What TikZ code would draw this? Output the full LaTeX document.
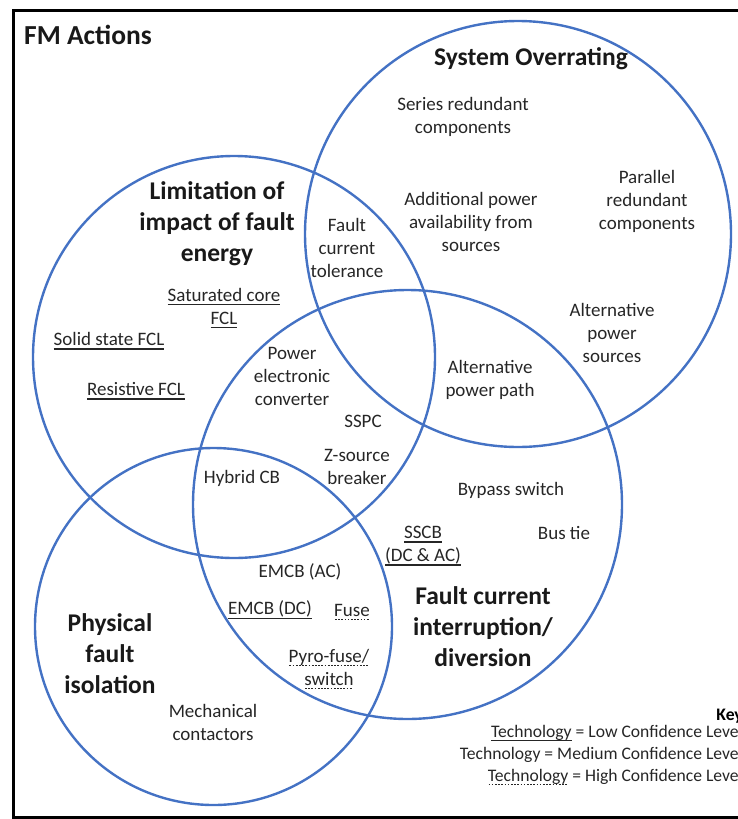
\documentclass[tikz,border=0pt]{standalone}
\usepackage{fontspec}
\setmainfont{Carlito}
\definecolor{ringblue}{HTML}{4472C4}
\definecolor{txt}{HTML}{262626}
% underline marks for the confidence levels
\newlength\ulw
\newcommand{\lowconf}[1]{\settowidth{\ulw}{#1}\rlap{\vrule width\ulw height -2.6pt depth 4.0pt}#1}
\newcommand{\highconf}[1]{\settowidth{\ulw}{#1}\rlap{\hbox to \ulw{\leaders\hbox to 3.2pt{\hss\vrule width 1.7pt height -2.8pt depth 4.0pt\hss}\hfill}}#1}
\begin{document}
\begin{tikzpicture}[x=1pt,y=-1pt,
  ring/.style={draw=ringblue, line width=2.4pt},
  item/.style={font=\fontsize{19}{23}\selectfont, align=center, text=txt, inner sep=0pt},
  head/.style={font=\fontsize{25.5}{31}\selectfont\bfseries, align=center, text=black!90, inner sep=0pt},
  keyline/.style={font=\fontsize{17.6}{21}\selectfont, text=txt, inner sep=0pt, anchor=east}]
\useasboundingbox (0,0) rectangle (737,819);

% outer frame
\draw[line width=3pt] (13,10) rectangle (770,817);

% the four action sets
\draw[ring] (518,234) circle[radius=213pt];
\draw[ring] (234,357) circle[radius=201pt];
\draw[ring] (407.5,504.5) circle[radius=214.5pt];
\draw[ring] (213.5,626.5) circle[radius=178.5pt];

% title
\node[head, font=\fontsize{27.5}{31}\selectfont\bfseries, anchor=west] (title) at (24,35) {FM Actions};

% set headings
\node[head] (hover) at (531,59) {System Overrating};
\node[head] (hlim) at (217,224) {Limitation of\\impact of fault\\energy};
\node[head] (hint) at (483,627) {Fault current\\interruption/\\diversion};
\node[head] (hiso) at (110,654) {Physical\\fault\\isolation};

% technologies
\node[item] (series) at (463,117) {Series redundant\\components};
\node[item] (parallel) at (647,201) {Parallel\\redundant\\components};
\node[item] (addpow) at (471,222) {Additional power\\availability from\\sources};
\node[item] (fct) at (347,248) {Fault\\current\\tolerance};
\node[item] (satcore) at (224,308) {\lowconf{Saturated core}\\\lowconf{FCL}};
\node[item] (solid) at (109,341) {\lowconf{Solid state FCL}};
\node[item] (resist) at (136,391) {\lowconf{Resistive FCL}};
\node[item] (pec) at (292,376) {Power\\electronic\\converter};
\node[item] (altsrc) at (612,333) {Alternative\\power\\sources};
\node[item] (altpath) at (490,380) {Alternative\\power path};
\node[item] (sspc) at (363,421) {SSPC};
\node[item] (zsrc) at (357,467) {Z-source\\breaker};
\node[item] (hybrid) at (242,478) {Hybrid CB};
\node[item] (bypass) at (511,490) {Bypass switch};
\node[item] (bustie) at (564,533) {Bus tie};
\node[item] (sscb) at (423,546) {\lowconf{SSCB}\\\lowconf{(DC \& AC)}};
\node[item] (emcbac) at (300,572) {EMCB (AC)};
\node[item] (emcbdc) at (270,610) {\lowconf{EMCB (DC)}};
\node[item] (fuse) at (352,612) {\highconf{Fuse}};
\node[item] (pyro) at (329,669) {\highconf{Pyro-fuse/}\\\highconf{switch}};
\node[item] (mech) at (213,722) {Mechanical\\contactors};

% key
\node[keyline, font=\fontsize{17.6}{21}\selectfont\bfseries, text=black] (key) at (743,716) {Key};
\node[keyline] (klow) at (743,733) {\lowconf{Technology} = Low Confidence Level};
\node[keyline] (kmed) at (743,755) {Technology = Medium Confidence Level};
\node[keyline] (khigh) at (743,777) {\highconf{Technology} = High Confidence Level};
\end{tikzpicture}
\end{document}
